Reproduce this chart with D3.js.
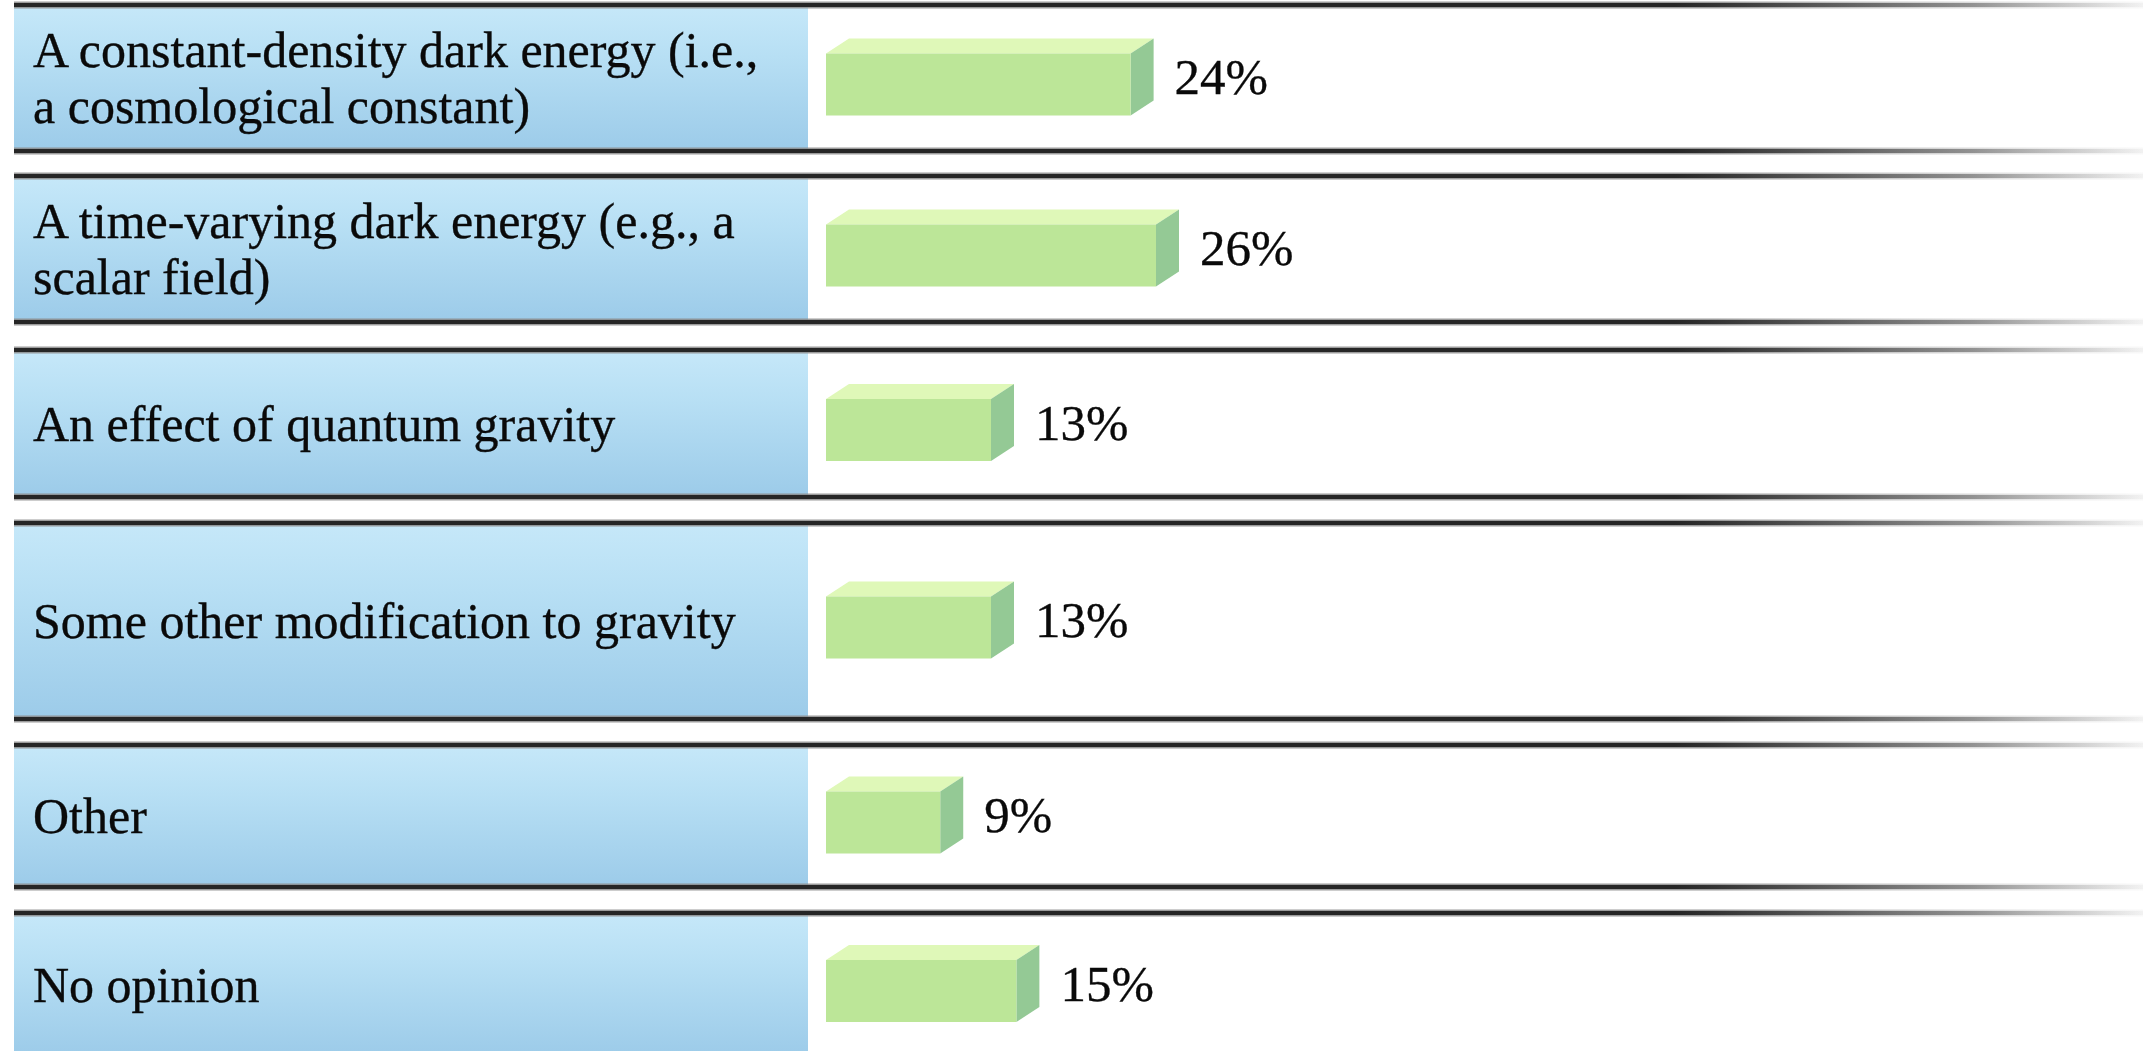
<!DOCTYPE html>
<html>
<head>
<meta charset="utf-8">
<script src="https://cdn.jsdelivr.net/npm/d3@7"></script>
<style>
  html, body { margin: 0; padding: 0; background: #ffffff; overflow: hidden; }
  svg { display: block; }
</style>
</head>
<body>
<svg id="chart" width="2143" height="1051"></svg>
<script>
// Survey answers and the share of respondents choosing each one
const categories = [
  ["A constant-density dark energy (i.e.,", "a cosmological constant)"],
  ["A time-varying dark energy (e.g., a", "scalar field)"],
  ["An effect of quantum gravity"],
  ["Some other modification to gravity"],
  ["Other"],
  ["No opinion"]
];
const values = [24, 26, 13, 13, 9, 15];
const valueLabels = ["24%", "26%", "13%", "13%", "9%", "15%"];

// Layout: top and bottom rule of each answer band
const rowBounds = [[5, 151], [176, 322], [350, 497], [523, 719], [745, 887], [913, 1056]];

const W = 2143, H = 1051;
const panelLeft = 14, panelRight = 808;
const barLeft = 826;
const frontH = 62, depthX = 23, depthY = 15;
const fontFamily = "'Liberation Serif', 'DejaVu Serif', serif";

const svg = d3.select("#chart");
const defs = svg.append("defs");

// Blue label panel gradient
const pg = defs.append("linearGradient").attr("id", "panelGrad")
  .attr("x1", 0).attr("y1", 0).attr("x2", 0).attr("y2", 1);
pg.append("stop").attr("offset", "0%").attr("stop-color", "#c6e8f9");
pg.append("stop").attr("offset", "35%").attr("stop-color", "#b7dff4");
pg.append("stop").attr("offset", "100%").attr("stop-color", "#9ccbe9");

// Rules fade out toward the right edge
const lg = defs.append("linearGradient").attr("id", "ruleGrad")
  .attr("gradientUnits", "userSpaceOnUse")
  .attr("x1", panelLeft).attr("y1", 0).attr("x2", W).attr("y2", 0);
lg.append("stop").attr("offset", "0%").attr("stop-color", "#262626").attr("stop-opacity", 1);
lg.append("stop").attr("offset", "78%").attr("stop-color", "#262626").attr("stop-opacity", 1);
lg.append("stop").attr("offset", "92%").attr("stop-color", "#555").attr("stop-opacity", 0.55);
lg.append("stop").attr("offset", "100%").attr("stop-color", "#777").attr("stop-opacity", 0.05);

const lg2 = defs.append("linearGradient").attr("id", "ruleHalo")
  .attr("gradientUnits", "userSpaceOnUse")
  .attr("x1", panelLeft).attr("y1", 0).attr("x2", W).attr("y2", 0);
lg2.append("stop").attr("offset", "0%").attr("stop-color", "#8a8a8a").attr("stop-opacity", 0.85);
lg2.append("stop").attr("offset", "80%").attr("stop-color", "#8a8a8a").attr("stop-opacity", 0.85);
lg2.append("stop").attr("offset", "100%").attr("stop-color", "#bbbbbb").attr("stop-opacity", 0.1);

// Horizontal value scale: bar length in pixels for a percentage
const x = d3.scaleLinear().domain([0, 26]).range([0, 330]);

const rows = svg.selectAll("g.row")
  .data(categories.map((c, i) => ({
    lines: c, value: values[i], label: valueLabels[i],
    top: rowBounds[i][0], bottom: rowBounds[i][1]
  })))
  .join("g").attr("class", "row");

// Label panel
rows.append("rect")
  .attr("x", panelLeft)
  .attr("y", d => d.top)
  .attr("width", panelRight - panelLeft)
  .attr("height", d => d.bottom - d.top)
  .attr("fill", "url(#panelGrad)");

// Rules above and below each band
rows.each(function(d) {
  const g = d3.select(this);
  [d.top, d.bottom].forEach(y => {
    g.append("line")
      .attr("x1", panelLeft).attr("x2", W)
      .attr("y1", y).attr("y2", y)
      .attr("stroke", "url(#ruleHalo)").attr("stroke-width", 7);
    g.append("line")
      .attr("x1", panelLeft).attr("x2", W)
      .attr("y1", y).attr("y2", y)
      .attr("stroke", "url(#ruleGrad)").attr("stroke-width", 4);
  });
});

// Answer text, one text element per line, vertically centred in the band
const lineGap = 56;
const capHalf = 17;
rows.each(function(d) {
  const cy = (d.top + d.bottom) / 2;
  const n = d.lines.length;
  const firstBase = cy + capHalf - (n - 1) * lineGap / 2;
  d3.select(this).selectAll("text.answer")
    .data(d.lines)
    .join("text")
    .attr("class", "answer")
    .attr("x", 33)
    .attr("y", (t, j) => firstBase + j * lineGap)
    .attr("font-family", fontFamily)
    .attr("font-size", 50)
    .attr("fill", "#0a0a0a")
    .attr("stroke", "#0a0a0a")
    .attr("stroke-width", 0.35)
    .text(t => t);
});

// 3D bars: front face, top face and right side
rows.each(function(d) {
  const g = d3.select(this);
  const cy = (d.top + d.bottom) / 2 - 1;
  const boxTop = cy - (frontH + depthY) / 2;
  const fTop = boxTop + depthY;
  const fBot = fTop + frontH;
  const x0 = barLeft, x1 = barLeft + x(d.value);

  g.append("path")
    .attr("d", `M${x0},${fTop} L${x0 + depthX},${boxTop} L${x1 + depthX},${boxTop} L${x1},${fTop} Z`)
    .attr("fill", "#dff8b8");
  g.append("path")
    .attr("d", `M${x1},${fTop} L${x1 + depthX},${boxTop} L${x1 + depthX},${fBot - depthY} L${x1},${fBot} Z`)
    .attr("fill", "#94c995");
  g.append("rect")
    .attr("x", x0).attr("y", fTop)
    .attr("width", x1 - x0).attr("height", frontH)
    .attr("fill", "#bce698");

  g.append("text")
    .attr("x", x1 + depthX + 21)
    .attr("y", cy + 17)
    .attr("font-family", fontFamily)
    .attr("font-size", 51)
    .attr("fill", "#0a0a0a")
    .attr("stroke", "#0a0a0a")
    .attr("stroke-width", 0.35)
    .text(d.label);
});
</script>
</body>
</html>
